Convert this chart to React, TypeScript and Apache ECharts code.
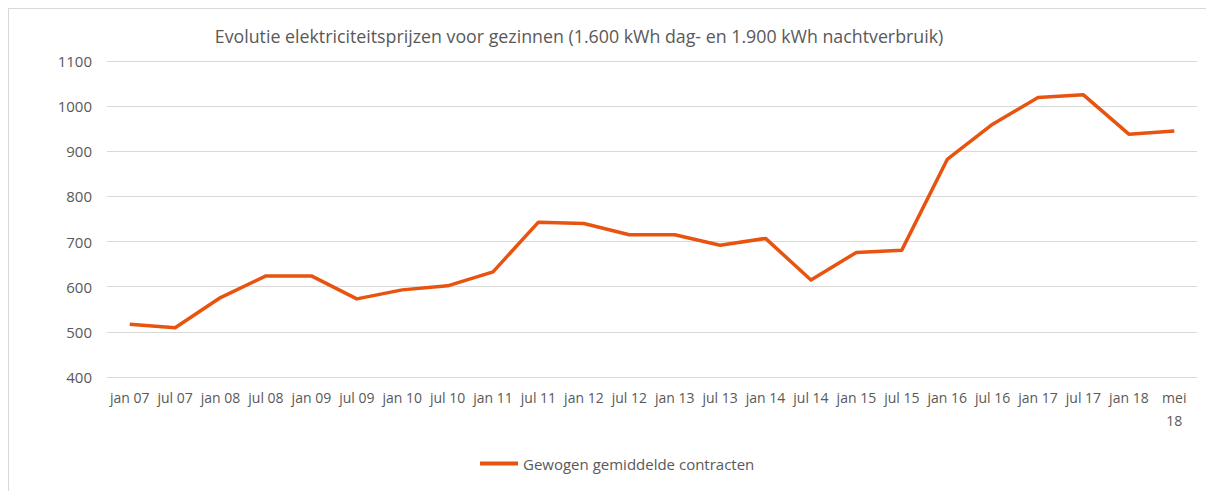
import React, { useEffect, useRef } from "react";
import * as echarts from "echarts";

const titleText = "Evolutie elektriciteitsprijzen voor gezinnen (1.600 kWh dag- en 1.900 kWh nachtverbruik)";
const seriesName = "Gewogen gemiddelde contracten";
const categories = [
  "jan 07", "jul 07", "jan 08", "jul 08", "jan 09", "jul 09", "jan 10", "jul 10",
  "jan 11", "jul 11", "jan 12", "jul 12", "jan 13", "jul 13", "jan 14", "jul 14",
  "jan 15", "jul 15", "jan 16", "jul 16", "jan 17", "jul 17", "jan 18", "mei 18",
];
const values = [
  517, 509, 576, 624, 624, 573, 593, 602,
  633, 743, 740, 715, 715, 692, 707, 615,
  676, 681, 882, 960, 1019, 1025, 938, 945,
];
const yMin = 400;
const yMax = 1100;
const yInterval = 100;

export default function App() {
  const ref = useRef<HTMLDivElement>(null);
  useEffect(() => {
    if (!ref.current) return;
    const chart = echarts.init(ref.current, null, { renderer: "svg" });
    const font = "'Open Sans', 'Noto Sans', sans-serif";
    chart.setOption({
      animation: false,
      backgroundColor: "#ffffff",
      title: {
        text: titleText,
        left: 565,
        top: 13,
        textAlign: "center",
        textStyle: { color: "#595959", fontSize: 17.8, fontWeight: "normal", fontFamily: font },
      },
      grid: { left: 98, right: 17, top: 52, bottom: 114, containLabel: false },
      legend: {
        left: 466,
        top: 442,
        icon: "rect",
        itemWidth: 38,
        itemHeight: 4,
        itemGap: 10,
        textStyle: { color: "#595959", fontSize: 15, fontFamily: font },
        data: [seriesName],
      },
      xAxis: {
        type: "category",
        data: categories,
        boundaryGap: true,
        axisLine: { show: false },
        axisTick: { show: false },
        axisLabel: {
          color: "#595959",
          fontSize: 14,
          fontFamily: font,
          interval: 0,
          margin: 9,
          lineHeight: 23,
          formatter: (v: string) => (v.startsWith("mei") ? v.replace(" ", "\n") : v),
        },
      },
      yAxis: {
        type: "value",
        min: yMin,
        max: yMax,
        interval: yInterval,
        axisLine: { show: false },
        axisTick: { show: false },
        axisLabel: {
          color: "#595959",
          fontSize: 15,
          fontFamily: font,
          margin: 15,
          formatter: (v: number) => String(v),
        },
        splitLine: { lineStyle: { color: "#D9D9D9", width: 1 } },
      },
      series: [
        {
          name: seriesName,
          type: "line",
          data: values,
          symbol: "none",
          color: "#E8540F",
          lineStyle: { color: "#E8540F", width: 3.5, join: "round" },
        },
      ],
    });
    return () => chart.dispose();
  }, []);
  return (
    <div
      style={{
        width: 1206,
        height: 483,
        boxSizing: "border-box",
        borderTop: "1px solid #D9D9D9",
        borderLeft: "1px solid #D9D9D9",
        overflow: "hidden",
      }}
    >
      <div ref={ref} style={{ width: 1205, height: 482 }} />
    </div>
  );
}
